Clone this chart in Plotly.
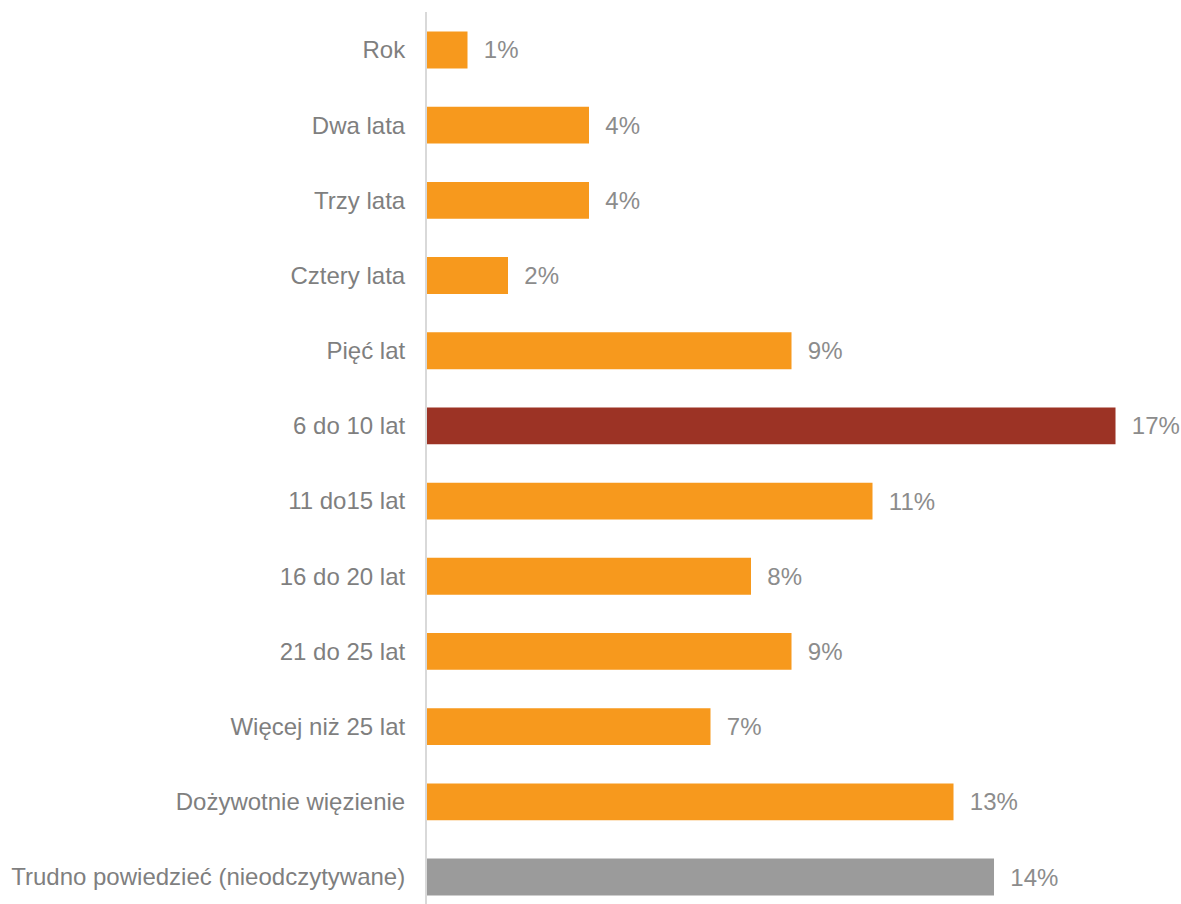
import plotly.graph_objects as go

categories = ["Rok", "Dwa lata", "Trzy lata", "Cztery lata", "Pięć lat", "6 do 10 lat",
              "11 do15 lat", "16 do 20 lat", "21 do 25 lat", "Więcej niż 25 lat",
              "Dożywotnie więzienie", "Trudno powiedzieć (nieodczytywane)"]
values = [1, 4, 4, 2, 9, 17, 11, 8, 9, 7, 13, 14]
labels = ["1%", "4%", "4%", "2%", "9%", "17%", "11%", "8%", "9%", "7%", "13%", "14%"]

ORANGE = "#F7991D"
DARKRED = "#9C3325"
GRAY = "#9B9B9B"
colors = [ORANGE] * len(categories)
colors[5] = DARKRED
colors[11] = GRAY

fig = go.Figure(go.Bar(
    x=values, y=categories, orientation="h",
    marker=dict(color=colors, line=dict(width=0)),
    width=0.49,
    text=["  " + t for t in labels],
    textposition="outside",
    constraintext="none",
    cliponaxis=False,
    textfont=dict(family="Liberation Sans, Arial, sans-serif", size=24, color="#8C8C8C"),
    hoverinfo="skip",
))

fig.update_layout(
    width=1181, height=904,
    margin=dict(l=427, r=0, t=12, b=0),
    paper_bgcolor="white", plot_bgcolor="white",
    showlegend=False,
    font=dict(family="Liberation Sans, Arial, sans-serif", size=24, color="#7F7F7F"),
    xaxis=dict(range=[0, 18.617], visible=False, showgrid=False, zeroline=False, fixedrange=True),
    yaxis=dict(
        type="category",
        range=[11.359, -0.505],
        showline=True, linecolor="#D9D9D9", linewidth=2,
        showgrid=False, zeroline=False,
        ticks="", ticklabelstandoff=15,
        tickfont=dict(size=24, color="#7F7F7F"),
        fixedrange=True,
    ),
)

fig.write_html("out.html", config={"displayModeBar": False},
               post_script="document.body.style.margin='0';document.body.style.overflow='hidden';")
